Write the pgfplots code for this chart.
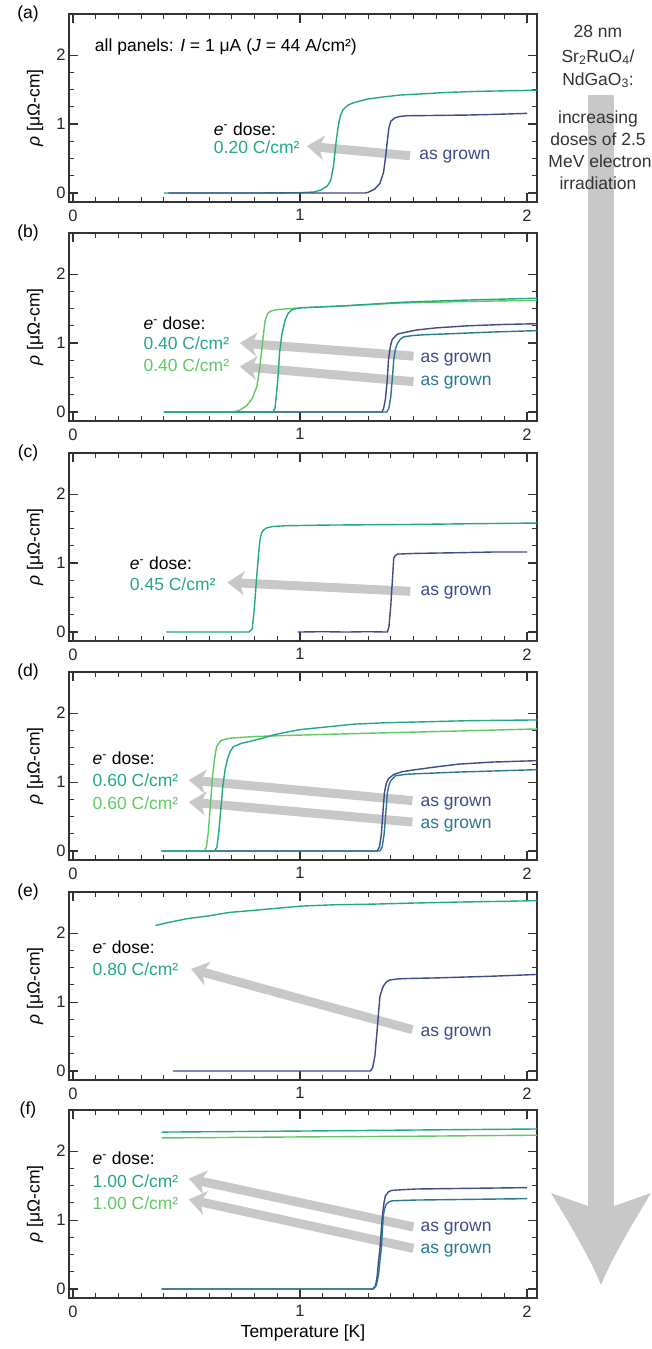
\documentclass[border=0pt]{standalone}
\usepackage{fontspec}
\setmainfont{Liberation Sans}
\usepackage{pgfplots}
\pgfplotsset{compat=1.18}
\usetikzlibrary{arrows.meta}
\definecolor{navy}{HTML}{3E4A89}
\definecolor{tealb}{HTML}{2A788E}
\definecolor{tealg}{HTML}{22A884}
\definecolor{lgreen}{HTML}{5EC962}
\definecolor{agray}{HTML}{C8C8C8}
\definecolor{axgray}{HTML}{333333}
\pgfplotsset{panel/.style={
  scale only axis, width=468pt, height=188pt,
  xmin=-0.0176, xmax=2.044, ymin=-0.13, ymax=2.595,
  xtick={0,1,2}, ytick={0,1,2}, minor x tick num=9, minor y tick num=3,
  tick align=inside, tick pos=both, xticklabel pos=lower, yticklabel pos=left,
  major tick length=9pt, minor tick length=5pt,
  every tick/.style={line width=1.1pt, axgray},
  axis line style={line width=1.4pt, axgray},
  ticklabel style={font=\fontsize{16.5}{20}\selectfont, text=black!85},
  /pgf/number format/assume math mode=true,
  xticklabel style={yshift=-4pt},
  ylabel={\textit{ρ} [μΩ-cm]},
  every axis y label/.style={at={(axis description cs:-0.0726,0.5)}, rotate=90, anchor=center, font=\fontsize{17.5}{21}\selectfont},
  set layers,
  every axis plot/.append style={line width=1.4pt, no marks},
}}
\tikzset{
arr/.style={agray, line width=9pt, -{Stealth[length=17pt,width=24pt,inset=5pt]}},
lab/.style={anchor=west, inner sep=0pt, font=\fontsize{17.5}{21}\selectfont},
}
\begin{document}
\begin{tikzpicture}[font=\fontsize{17.5}{21}\selectfont]
% big arrow
\fill[agray] (588pt,-95pt) rectangle (614pt,-1210pt);
\fill[agray] (588pt,-1206pt) -- (551pt,-1193pt) .. controls (572pt,-1228pt) and (590pt,-1258pt) .. (601pt,-1285pt) .. controls (612pt,-1258pt) and (630pt,-1228pt) .. (651pt,-1193pt) -- (614pt,-1206pt) -- cycle;
\begin{scope}[text=black!80]
\node[anchor=base] at (598pt,-37pt) {28 nm};
\node[anchor=base] at (598pt,-62pt) {Sr\textsubscript{2}RuO\textsubscript{4}/};
\node[anchor=base] at (598pt,-85pt) {NdGaO\textsubscript{3}:};
\node[anchor=base] at (598pt,-123pt) {increasing};
\node[anchor=base] at (598pt,-145pt) {doses of 2.5};
\node[anchor=base] at (600pt,-167pt) {MeV electron};
\node[anchor=base] at (598pt,-189pt) {irradiation};
\end{scope}
% panel letters
\node at (28pt,-14pt) {(a)};
\node at (28pt,-233pt) {(b)};
\node at (28pt,-453pt) {(c)};
\node at (28pt,-672pt) {(d)};
\node at (28pt,-892pt) {(e)};
\node at (28pt,-1110pt) {(f)};

% (a)
\begin{axis}[panel, at={(69pt,-202pt)}, anchor=south west]
\begin{pgfonlayer}{axis background}
\draw[arr] (axis cs:1.485,0.54) -- (axis cs:1.03,0.68);
\end{pgfonlayer}
\node[lab] at (axis cs:0.096,2.12) {all panels: \textit{I} = 1 μA (\textit{J} = 44 A/cm²)};
\node[lab] at (axis cs:0.62,0.93) {\textit{e}\textsuperscript{-} dose:};
\node[lab, text=tealg] at (axis cs:0.62,0.66) {0.20 C/cm²};
\node[lab, text=navy] at (axis cs:1.525,0.53) {as grown};
\addplot[tealg] coordinates {(0.40,0) (0.80,0) (1.00,0.005) (1.06,0.015) (1.09,0.04) (1.12,0.10) (1.135,0.18) (1.147,0.38) (1.16,0.77) (1.17,1.00) (1.178,1.12) (1.19,1.21) (1.21,1.27) (1.228,1.30) (1.26,1.33) (1.294,1.36) (1.36,1.39) (1.44,1.42) (1.55,1.44) (1.66,1.46) (1.80,1.475) (1.95,1.485) (2.044,1.49)};
\addplot[navy] coordinates {(0.42,0) (1.00,0) (1.286,0) (1.30,0.01) (1.33,0.06) (1.352,0.14) (1.368,0.30) (1.378,0.55) (1.385,0.77) (1.392,0.95) (1.40,1.04) (1.418,1.09) (1.44,1.11) (1.47,1.12) (1.60,1.125) (1.73,1.13) (1.86,1.14) (2.00,1.155)};
\end{axis}

% (b)
\begin{axis}[panel, at={(69pt,-421pt)}, anchor=south west]
\begin{pgfonlayer}{axis background}
\draw[arr] (axis cs:1.50,0.81) -- (axis cs:0.735,1.0);
\draw[arr] (axis cs:1.50,0.44) -- (axis cs:0.735,0.66);
\end{pgfonlayer}
\node[lab] at (axis cs:0.31,1.29) {\textit{e}\textsuperscript{-} dose:};
\node[lab, text=tealg] at (axis cs:0.31,1.0) {0.40 C/cm²};
\node[lab, text=lgreen] at (axis cs:0.31,0.68) {0.40 C/cm²};
\node[lab, text=navy] at (axis cs:1.53,0.76) {as grown};
\node[lab, text=tealb] at (axis cs:1.53,0.43) {as grown};
\addplot[navy] coordinates {(0.40,0) (1.361,0) (1.368,0.05) (1.376,0.18) (1.384,0.45) (1.39,0.76) (1.398,0.95) (1.406,1.05) (1.42,1.10) (1.43,1.13) (1.47,1.16) (1.516,1.19) (1.60,1.22) (1.74,1.25) (1.90,1.27) (2.044,1.28)};
\addplot[tealb] coordinates {(0.40,0) (1.383,0) (1.392,0.06) (1.40,0.23) (1.407,0.50) (1.413,0.76) (1.42,0.91) (1.43,1.00) (1.443,1.06) (1.457,1.09) (1.50,1.11) (1.546,1.12) (1.70,1.14) (1.85,1.16) (2.044,1.18)};
\addplot[lgreen] coordinates {(0.40,0) (0.70,0) (0.73,0.02) (0.765,0.09) (0.79,0.20) (0.81,0.37) (0.822,0.62) (0.83,0.86) (0.838,1.10) (0.846,1.32) (0.856,1.42) (0.868,1.46) (0.89,1.48) (0.92,1.49) (1.00,1.51) (1.20,1.54) (1.44,1.58) (1.70,1.60) (2.044,1.62)};
\addplot[tealg] coordinates {(0.40,0) (0.88,0) (0.89,0.06) (0.897,0.28) (0.904,0.55) (0.91,0.86) (0.92,1.12) (0.934,1.33) (0.948,1.43) (0.963,1.48) (0.985,1.50) (1.00,1.51) (1.20,1.54) (1.44,1.59) (1.70,1.62) (2.044,1.65)};
\end{axis}

% (c)
\begin{axis}[panel, at={(69pt,-641pt)}, anchor=south west]
\begin{pgfonlayer}{axis background}
\draw[arr] (axis cs:1.486,0.59) -- (axis cs:0.68,0.72);
\end{pgfonlayer}
\node[lab] at (axis cs:0.25,1.0) {\textit{e}\textsuperscript{-} dose:};
\node[lab, text=tealg] at (axis cs:0.25,0.70) {0.45 C/cm²};
\node[lab, text=navy] at (axis cs:1.53,0.57) {as grown};
\addplot[tealg] coordinates {(0.41,0) (0.776,0) (0.79,0.05) (0.80,0.39) (0.808,0.75) (0.817,1.11) (0.823,1.32) (0.83,1.43) (0.84,1.48) (0.853,1.51) (0.88,1.53) (0.93,1.54) (1.10,1.55) (1.30,1.555) (1.51,1.56) (1.75,1.57) (2.044,1.58)};
\addplot[navy] coordinates {(0.99,0) (1.10,0.005) (1.20,0) (1.30,0.005) (1.385,0) (1.392,0.08) (1.40,0.39) (1.407,0.75) (1.413,1.07) (1.42,1.11) (1.43,1.13) (1.51,1.14) (1.70,1.15) (1.85,1.16) (2.00,1.16)};
\end{axis}

% (d)
\begin{axis}[panel, at={(69pt,-860pt)}, anchor=south west]
\begin{pgfonlayer}{axis background}
\draw[arr] (axis cs:1.495,0.73) -- (axis cs:0.51,1.03);
\draw[arr] (axis cs:1.495,0.42) -- (axis cs:0.51,0.71);
\end{pgfonlayer}
\node[lab] at (axis cs:0.086,1.34) {\textit{e}\textsuperscript{-} dose:};
\node[lab, text=tealg] at (axis cs:0.086,1.03) {0.60 C/cm²};
\node[lab, text=lgreen] at (axis cs:0.086,0.70) {0.60 C/cm²};
\node[lab, text=navy] at (axis cs:1.53,0.69) {as grown};
\node[lab, text=tealb] at (axis cs:1.53,0.37) {as grown};
\addplot[navy] coordinates {(0.39,0) (1.34,0) (1.35,0.06) (1.358,0.23) (1.365,0.55) (1.372,0.85) (1.38,0.98) (1.39,1.05) (1.413,1.11) (1.45,1.15) (1.51,1.18) (1.60,1.22) (1.70,1.26) (1.85,1.29) (2.044,1.31)};
\addplot[tealb] coordinates {(0.39,0) (1.352,0) (1.362,0.06) (1.37,0.23) (1.378,0.55) (1.385,0.85) (1.393,0.97) (1.40,1.02) (1.42,1.09) (1.46,1.11) (1.51,1.12) (1.70,1.145) (1.90,1.165) (2.044,1.18)};
\addplot[lgreen] coordinates {(0.39,0) (0.578,0) (0.588,0.06) (0.596,0.27) (0.605,0.65) (0.615,1.09) (0.624,1.35) (0.633,1.52) (0.651,1.60) (0.68,1.63) (0.706,1.64) (0.80,1.66) (0.89,1.67) (1.10,1.69) (1.33,1.71) (1.70,1.74) (2.044,1.77)};
\addplot[tealg] coordinates {(0.39,0) (0.624,0) (0.634,0.06) (0.642,0.27) (0.651,0.60) (0.66,0.94) (0.67,1.18) (0.68,1.33) (0.692,1.44) (0.706,1.51) (0.74,1.56) (0.78,1.59) (0.84,1.64) (0.89,1.69) (1.00,1.76) (1.12,1.80) (1.24,1.84) (1.38,1.86) (1.51,1.87) (1.75,1.89) (2.044,1.90)};
\end{axis}

% (e)
\begin{axis}[panel, at={(69pt,-1080pt)}, anchor=south west]
\begin{pgfonlayer}{axis background}
\draw[arr] (axis cs:1.495,0.60) -- (axis cs:0.52,1.48);
\end{pgfonlayer}
\node[lab] at (axis cs:0.086,1.79) {\textit{e}\textsuperscript{-} dose:};
\node[lab, text=tealg] at (axis cs:0.086,1.48) {0.80 C/cm²};
\node[lab, text=navy] at (axis cs:1.53,0.545) {as grown};
\addplot[tealg] coordinates {(0.363,2.11) (0.43,2.16) (0.505,2.21) (0.60,2.25) (0.69,2.30) (0.80,2.33) (0.90,2.36) (1.00,2.39) (1.15,2.41) (1.33,2.42) (1.50,2.435) (1.70,2.45) (1.90,2.46) (2.044,2.47)};
\addplot[navy] coordinates {(0.44,0) (1.31,0) (1.32,0.05) (1.33,0.22) (1.34,0.60) (1.346,0.85) (1.352,1.08) (1.36,1.17) (1.367,1.23) (1.38,1.29) (1.395,1.32) (1.43,1.335) (1.46,1.34) (1.60,1.35) (1.70,1.36) (1.85,1.375) (2.044,1.40)};
\end{axis}

% (f)
\begin{axis}[panel, at={(69pt,-1298pt)}, anchor=south west,
  xlabel={Temperature [K]},
  every axis x label/.style={at={(axis description cs:0.5,0)}, anchor=center, yshift=-35pt, font=\fontsize{17.5}{21}\selectfont}]
\begin{pgfonlayer}{axis background}
\draw[arr] (axis cs:1.50,0.90) -- (axis cs:0.51,1.60);
\draw[arr] (axis cs:1.50,0.59) -- (axis cs:0.51,1.30);
\end{pgfonlayer}
\node[lab] at (axis cs:0.086,1.89) {\textit{e}\textsuperscript{-} dose:};
\node[lab, text=tealg] at (axis cs:0.086,1.56) {1.00 C/cm²};
\node[lab, text=lgreen] at (axis cs:0.086,1.25) {1.00 C/cm²};
\node[lab, text=navy] at (axis cs:1.53,0.87) {as grown};
\node[lab, text=tealb] at (axis cs:1.53,0.55) {as grown};
\addplot[tealg] coordinates {(0.39,2.275) (1.00,2.29) (1.50,2.305) (2.044,2.32)};
\addplot[lgreen] coordinates {(0.39,2.19) (1.00,2.205) (1.50,2.215) (2.044,2.23)};
\addplot[navy] coordinates {(0.39,0) (1.32,0) (1.333,0.05) (1.34,0.19) (1.346,0.40) (1.352,0.58) (1.358,0.85) (1.363,1.06) (1.37,1.25) (1.376,1.35) (1.39,1.41) (1.404,1.43) (1.45,1.44) (1.51,1.45) (1.75,1.46) (2.00,1.47)};
\addplot[tealb] coordinates {(0.39,0) (1.323,0) (1.336,0.05) (1.345,0.19) (1.352,0.40) (1.358,0.58) (1.363,0.85) (1.367,1.06) (1.372,1.16) (1.38,1.23) (1.395,1.27) (1.41,1.28) (1.51,1.29) (1.75,1.30) (2.00,1.31)};
\end{axis}
\pgfresetboundingbox
\useasboundingbox (0pt,0pt) rectangle (652pt,-1349pt);
\end{tikzpicture}
\end{document}
